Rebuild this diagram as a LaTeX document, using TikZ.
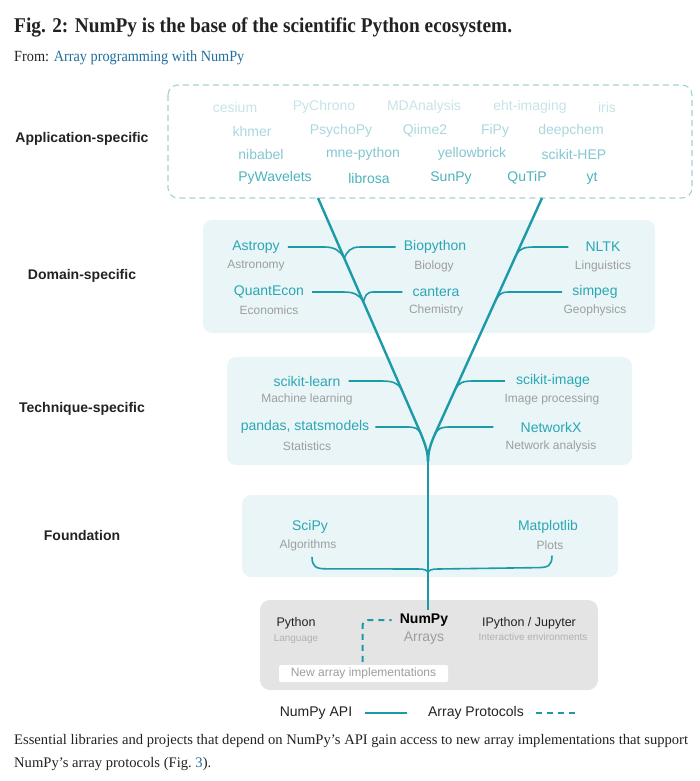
\documentclass[tikz,border=0pt]{standalone}
\usepackage{fontspec}
\setmainfont{Liberation Sans}
\newfontfamily\notefont{Liberation Serif}
\newfontfamily\headfont[FakeStretch=0.92]{Liberation Serif}
\usetikzlibrary{calc}

\definecolor{npteal}{HTML}{1C9AA8}
\definecolor{pkgteal}{HTML}{2AA7B4}
\definecolor{descgrey}{HTML}{9E9E9E}
\definecolor{panelteal}{HTML}{EAF5F7}
\definecolor{panelgrey}{HTML}{E4E4E4}
\definecolor{boxdash}{HTML}{A9CFD6}
\definecolor{appA}{HTML}{C6E3E8}
\definecolor{appB}{HTML}{A9D7DE}
\definecolor{appC}{HTML}{84C6D0}
\definecolor{appD}{HTML}{4BB2BE}
\definecolor{inktext}{HTML}{222222}
\definecolor{linkblue}{HTML}{1F6E9C}

\tikzset{
  pkg/.style = {inner sep = 0, text = pkgteal, font = \fontsize{14}{14}\selectfont},
  desc/.style = {inner sep = 0, text = descgrey, font = \fontsize{12}{12}\selectfont},
  tier/.style = {inner sep = 0, text = inktext, font = \bfseries\fontsize{14}{14}\selectfont},
  app/.style = {inner sep = 0, font = \fontsize{14}{14}\selectfont},
  panel/.style = {fill = panelteal, rounded corners = 9pt},
  trunk/.style = {npteal, line width = 2.4pt},
  twig/.style = {npteal, line width = 1.6pt},
  proto/.style = {npteal, line width = 2pt, dash pattern = on 6pt off 5pt},
}

\begin{document}
\begin{tikzpicture}[x = 1pt, y = -1pt]
  \useasboundingbox (0, 0) rectangle (700, 781);

  % heading
  \node [anchor = west, inner sep = 0, text = inktext, font = \headfont\bfseries\fontsize{21}{22}\selectfont] (title) at (14, 27) {Fig. 2: NumPy is the base of the scientific Python ecosystem.};
  \node [anchor = west, inner sep = 0, text = inktext, font = \headfont\fontsize{15.5}{16}\selectfont] (source) at (14, 58) {From: \textcolor{linkblue}{Array programming with NumPy}};

  % panels
  \draw [boxdash, line width = 1.1pt, dash pattern = on 6pt off 4pt, rounded corners = 10pt] (168, 85) rectangle (692, 198);
  \fill [panel] (203, 220) rectangle (655, 333);
  \fill [panel] (227, 357) rectangle (632, 465);
  \fill [panel] (242, 495) rectangle (618, 577);
  \fill [panelgrey, rounded corners = 10pt] (260, 600) rectangle (598, 690);

  % tiers
  \node [tier] (tapp) at (82, 139) {Application-specific};
  \node [tier] (tdom) at (82, 276) {Domain-specific};
  \node [tier] (ttech) at (82, 409) {Technique-specific};
  \node [tier] (tfound) at (82, 535) {Foundation};

  % application-specific projects
  \foreach \name/\x in {cesium/235, PyChrono/324, MDAnalysis/424, eht-imaging/530, iris/607}
    \node [app, text = appA] (app-\name) at (\x, 107) {\name};
  \foreach \name/\x in {khmer/252, PsychoPy/341, Qiime2/425, FiPy/495, deepchem/571}
    \node [app, text = appB] (app-\name) at (\x, 131) {\name};
  \foreach \name/\x in {nibabel/261, mne-python/363, yellowbrick/472, scikit-HEP/574}
    \node [app, text = appC] (app-\name) at (\x, 154) {\name};
  \foreach \name/\x in {PyWavelets/275, librosa/369, SunPy/451, QuTiP/527, yt/592}
    \node [app, text = appD] (app-\name) at (\x, 178) {\name};

  % domain-specific
  \node [pkg] (astropy) at (256, 247) {Astropy};
  \node [desc] (astronomy) at (256, 266) {Astronomy};
  \node [pkg] (biopython) at (435, 247) {Biopython};
  \node [desc] (biology) at (434, 266) {Biology};
  \node [pkg] (nltk) at (603, 247) {NLTK};
  \node [desc] (linguistics) at (603, 266) {Linguistics};
  \node [pkg] (quantecon) at (269, 292) {QuantEcon};
  \node [desc] (economics) at (269, 310) {Economics};
  \node [pkg] (cantera) at (436, 292) {cantera};
  \node [desc] (chemistry) at (436, 310) {Chemistry};
  \node [pkg] (simpeg) at (595, 292) {simpeg};
  \node [desc] (geophysics) at (595, 310) {Geophysics};

  % technique-specific
  \node [pkg] (sklearn) at (307, 381) {scikit-learn};
  \node [desc] (ml) at (307, 399) {Machine learning};
  \node [pkg] (pandas) at (305, 427) {pandas, statsmodels};
  \node [desc] (stats) at (307, 446) {Statistics};
  \node [pkg] (skimage) at (553, 381) {scikit-image};
  \node [desc] (imgproc) at (552, 399) {Image processing};
  \node [pkg] (networkx) at (551, 427) {NetworkX};
  \node [desc] (netan) at (551, 446) {Network analysis};

  % foundation
  \node [pkg] (scipy) at (310, 527) {SciPy};
  \node [desc] (algorithms) at (308, 545) {Algorithms};
  \node [pkg] (matplotlib) at (548, 527) {Matplotlib};
  \node [desc] (plots) at (550, 545) {Plots};

  % base
  \node [inner sep = 0, text = inktext, font = \fontsize{12.5}{12.5}\selectfont] (python) at (296, 623) {Python};
  \node [inner sep = 0, text = descgrey!80, font = \fontsize{10}{10}\selectfont] (language) at (296, 639) {Language};
  \node [inner sep = 0, text = black, font = \bfseries\fontsize{14}{14}\selectfont] (numpy) at (424, 620) {NumPy};
  \node [inner sep = 0, text = descgrey, font = \fontsize{14}{14}\selectfont] (arrays) at (424, 638) {Arrays};
  \node [inner sep = 0, text = inktext, font = \fontsize{12.5}{12.5}\selectfont] (ipython) at (529, 623) {IPython / Jupyter};
  \node [inner sep = 0, text = descgrey!80, font = \fontsize{10}{10}\selectfont] (interactive) at (533, 637) {Interactive environments};
  \node [fill = white, rounded corners = 2pt, minimum width = 169, minimum height = 17, inner sep = 0, text = descgrey, font = \fontsize{12}{12}\selectfont] (newimpl) at (363.5, 673.5) {New array implementations};

  % the tree
  \coordinate (rootL) at (318, 198);
  \coordinate (rootR) at (542, 198);
  \coordinate (bendL) at (421, 434);
  \coordinate (bendR) at (435, 434);
  \coordinate (fork) at (428, 462);
  \coordinate (base) at (428, 610);

  \draw [trunk] (rootL) -- (bendL) .. controls +(4, 10) and +(0, -10) .. (fork);
  \draw [trunk] (rootR) -- (bendR) .. controls +(-4.5, 10) and +(0, -10) .. (fork);
  \draw [trunk, line width = 2.8pt] (fork) -- (base);

  \coordinate (jAstro) at ($(rootL)!0.255!(bendL)$);
  \coordinate (jQuant) at ($(rootL)!0.44!(bendL)$);
  \coordinate (jLearn) at ($(rootL)!0.81!(bendL)$);
  \coordinate (jPandas) at (bendL);
  \coordinate (jNltk) at ($(rootR)!0.24!(bendR)$);
  \coordinate (jSimpeg) at ($(rootR)!0.44!(bendR)$);
  \coordinate (jImage) at ($(rootR)!0.81!(bendR)$);
  \coordinate (jNetx) at (bendR);

  % branches, left of the left stem
  \draw [twig] ([xshift = 8pt]astropy.east) -- ($(jAstro |- astropy.east) + (-20, 0)$) .. controls +(11, 0) and +(-4, -7) .. (jAstro);
  \draw [twig] ([xshift = 8pt]quantecon.east) -- ($(jQuant |- quantecon.east) + (-20, 0)$) .. controls +(11, 0) and +(-4, -7) .. (jQuant);
  \draw [twig] ([xshift = 8pt]sklearn.east) -- ($(jLearn |- sklearn.east) + (-21, 0)$) .. controls +(11, 0) and +(-4, -7) .. (jLearn);
  \draw [twig] ([xshift = 6pt]pandas.east) -- ($(jPandas |- pandas.east) + (-14, 0)$) .. controls +(8, 0) and +(-3, -6) .. (jPandas);
  % branches, inside the fork
  \draw [twig] ([xshift = -8pt]biopython.west) -- ($(jAstro |- biopython.west) + (16, 0)$) .. controls +(-10, 0) and +(3, -7) .. (jAstro);
  \draw [twig] ([xshift = -10pt]cantera.west) -- ($(jQuant |- cantera.west) + (10, 0)$) .. controls +(-7, 0) and +(2, -6) .. (jQuant);
  % branches, right of the right stem
  \draw [twig] ([xshift = -17pt]nltk.west) -- ($(jNltk |- nltk.west) + (20, 0)$) .. controls +(-11, 0) and +(4, -7) .. (jNltk);
  \draw [twig] ([xshift = -10pt]simpeg.west) -- ($(jSimpeg |- simpeg.west) + (14, 0)$) .. controls +(-9, 0) and +(4, -7) .. (jSimpeg);
  \draw [twig] ([xshift = -11pt]skimage.west) -- ($(jImage |- skimage.west) + (18, 0)$) .. controls +(-10, 0) and +(4, -7) .. (jImage);
  \draw [twig] ([xshift = -27pt]networkx.west) -- ($(jNetx |- networkx.west) + (15, 0)$) .. controls +(-8, 0) and +(3, -6) .. (jNetx);

  % foundation brace
  \coordinate (brL) at ($(algorithms.south) + (4, 6)$);
  \coordinate (brR) at ($(plots.south) + (2, 6)$);
  \coordinate (brM) at (428, 573);
  \draw [twig] (brL) .. controls +(0, 10) and +(-10, 0) .. ($(brL) + (14, 12)$) -- ($(brM) + (-10, -4)$) .. controls +(6, 0) and +(0, -3) .. (brM);
  \draw [twig] (brR) .. controls +(0, 10) and +(10, 0) .. ($(brR) + (-14, 12)$) -- ($(brM) + (10, -4)$) .. controls +(-6, 0) and +(0, -3) .. (brM);

  % array protocols
  \draw [proto, rounded corners = 6pt] ([xshift = -1pt, yshift = 3pt]newimpl.north) |- ([xshift = -8pt]numpy.west);

  % legend
  \node [inner sep = 0, text = inktext, font = \fontsize{14}{14}\selectfont] (apilbl) at (316, 713) {NumPy API};
  \node [inner sep = 0, text = inktext, font = \fontsize{14}{14}\selectfont] (protolbl) at (476, 713) {Array Protocols};
  \draw [npteal, line width = 2pt] ([xshift = 13pt]apilbl.east) -- ++(42, 0);
  \draw [proto] ([xshift = 12pt]protolbl.east) -- ++(42, 0);

  % caption
  \node [anchor = west, inner sep = 0, text = inktext, font = \notefont\fontsize{14.6}{15}\selectfont] (cap1) at (14, 741) {Essential libraries and projects that depend on NumPy’s API gain access to new array implementations that support};
  \node [anchor = west, inner sep = 0, text = inktext, font = \notefont\fontsize{14.6}{15}\selectfont] (cap2) at (14, 764) {NumPy’s array protocols (Fig.~\textcolor{linkblue}{3}).};
\end{tikzpicture}
\end{document}
